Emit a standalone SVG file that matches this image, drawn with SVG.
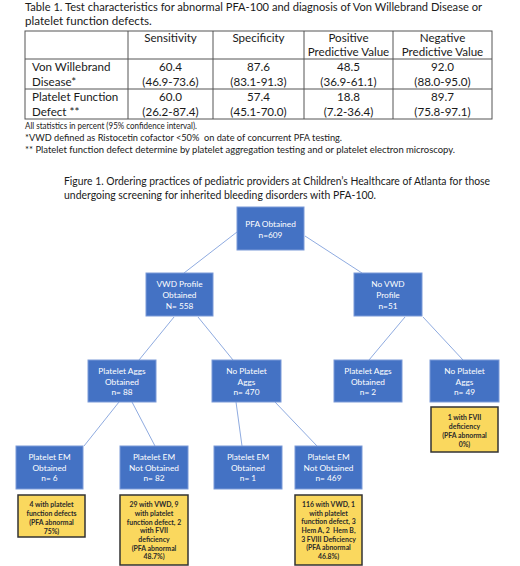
<svg xmlns="http://www.w3.org/2000/svg" width="520" height="566" viewBox="0 0 520 566">
<style>
.t{font-family:Lato,"Liberation Sans",sans-serif;fill:#1a1a1a}
.ttl{font-size:11.6px}
.cell{font-size:11.6px}
.ctr{text-anchor:middle}
.fn{font-size:9.4px}
.cap{font-size:10.6px}
.bx{fill:#4472C4;stroke:#7b9ad8;stroke-width:1}
.bt{font-family:Lato,"Liberation Sans",sans-serif;font-size:8.3px;fill:#ffffff;text-anchor:middle}
.yb{fill:#FAD85E;stroke:#333333;stroke-width:1.5}
.yt{font-family:Lato,"Liberation Sans",sans-serif;font-size:6.9px;font-weight:bold;fill:#2a2a2a;text-anchor:middle}
.tl{stroke:#555555;stroke-width:1;fill:none}
.cn{stroke:#8fabe0;stroke-width:1;fill:none}
</style>
<rect width="520" height="566" fill="#ffffff"/>
<g id="table">
<text class="t ttl" x="25" y="10.5" textLength="457" lengthAdjust="spacingAndGlyphs">Table 1. Test characteristics for abnormal PFA-100 and diagnosis of Von Willebrand Disease or</text>
<text class="t ttl" x="25" y="25">platelet function defects.</text>
<rect class="tl" x="25" y="31" width="467" height="88"/>
<line class="tl" x1="25" y1="59" x2="492" y2="59"/>
<line class="tl" x1="25" y1="89" x2="492" y2="89"/>
<line class="tl" x1="128" y1="31" x2="128" y2="119"/>
<line class="tl" x1="213" y1="31" x2="213" y2="119"/>
<line class="tl" x1="304" y1="31" x2="304" y2="119"/>
<line class="tl" x1="393" y1="31" x2="393" y2="119"/>
<text class="t cell ctr" x="170.5" y="41.5">Sensitivity</text>
<text class="t cell ctr" x="258.5" y="41.5">Specificity</text>
<text class="t cell ctr" x="348.5" y="41.5">Positive</text>
<text class="t cell ctr" x="348.5" y="56">Predictive Value</text>
<text class="t cell ctr" x="442.5" y="41.5">Negative</text>
<text class="t cell ctr" x="442.5" y="56">Predictive Value</text>
<text class="t cell" x="32" y="71">Von Willebrand</text>
<text class="t cell" x="32" y="86">Disease*</text>
<text class="t cell" x="32" y="101">Platelet Function</text>
<text class="t cell" x="32" y="116">Defect **</text>
<text class="t cell ctr" x="170.5" y="71">60.4</text>
<text class="t cell ctr" x="170.5" y="86">(46.9-73.6)</text>
<text class="t cell ctr" x="258.5" y="71">87.6</text>
<text class="t cell ctr" x="258.5" y="86">(83.1-91.3)</text>
<text class="t cell ctr" x="348.5" y="71">48.5</text>
<text class="t cell ctr" x="348.5" y="86">(36.9-61.1)</text>
<text class="t cell ctr" x="442.5" y="71">92.0</text>
<text class="t cell ctr" x="442.5" y="86">(88.0-95.0)</text>
<text class="t cell ctr" x="170.5" y="101">60.0</text>
<text class="t cell ctr" x="170.5" y="116">(26.2-87.4)</text>
<text class="t cell ctr" x="258.5" y="101">57.4</text>
<text class="t cell ctr" x="258.5" y="116">(45.1-70.0)</text>
<text class="t cell ctr" x="348.5" y="101">18.8</text>
<text class="t cell ctr" x="348.5" y="116">(7.2-36.4)</text>
<text class="t cell ctr" x="442.5" y="101">89.7</text>
<text class="t cell ctr" x="442.5" y="116">(75.8-97.1)</text>
<text class="t fn" x="25" y="128.5" textLength="172" lengthAdjust="spacingAndGlyphs">All statistics in percent (95% confidence interval).</text>
<text class="t fn" x="25" y="140.5" textLength="317" lengthAdjust="spacingAndGlyphs" xml:space="preserve">*VWD defined as Ristocetin cofactor &lt;50%  on date of concurrent PFA testing.</text>
<text class="t fn" x="25" y="152.5" textLength="430" lengthAdjust="spacingAndGlyphs">** Platelet function defect determine by platelet aggregation testing and or platelet electron microscopy.</text>
<text class="t cap" x="64" y="185" textLength="426" lengthAdjust="spacingAndGlyphs">Figure 1. Ordering practices of pediatric providers at Children’s Healthcare of Atlanta for those</text>
<text class="t cap" x="64" y="198.5" textLength="312" lengthAdjust="spacingAndGlyphs">undergoing screening for inherited bleeding disorders with PFA-100.</text>
</g>
<g id="connectors">
<line class="cn" x1="237" y1="232" x2="184" y2="273"/>
<line class="cn" x1="305" y1="236" x2="362" y2="273"/>
<line class="cn" x1="174" y1="317" x2="139" y2="360"/>
<line class="cn" x1="198" y1="317" x2="233" y2="360"/>
<line class="cn" x1="405" y1="317" x2="369" y2="360"/>
<line class="cn" x1="423" y1="317" x2="463" y2="360"/>
<line class="cn" x1="119" y1="402" x2="84" y2="446"/>
<line class="cn" x1="132" y1="402" x2="155" y2="446"/>
<line class="cn" x1="236" y1="402" x2="242" y2="446"/>
<line class="cn" x1="275" y1="402" x2="317" y2="446"/>
</g>
<g id="pfa"><rect class="bx" x="237" y="207" width="67" height="43"/><text class="bt" x="270.5" y="227">PFA Obtained</text><text class="bt" x="270.5" y="237.5">n=609</text></g>
<g id="vwd"><rect class="bx" x="146" y="273" width="67" height="43"/><text class="bt" x="179.5" y="287">VWD Profile</text><text class="bt" x="179.5" y="298">Obtained</text><text class="bt" x="179.5" y="309">N= 558</text></g>
<g id="novwd"><rect class="bx" x="354" y="273" width="68" height="43"/><text class="bt" x="388" y="287">No VWD</text><text class="bt" x="388" y="298">Profile</text><text class="bt" x="388" y="309">n=51</text></g>
<g id="pa88"><rect class="bx" x="88" y="360" width="68" height="42"/><text class="bt" x="122" y="374">Platelet Aggs</text><text class="bt" x="122" y="384.5">Obtained</text><text class="bt" x="122" y="395">n= 88</text></g>
<g id="npa470"><rect class="bx" x="212" y="360" width="69" height="42"/><text class="bt" x="246.5" y="374">No Platelet</text><text class="bt" x="246.5" y="384.5">Aggs</text><text class="bt" x="246.5" y="395">n= 470</text></g>
<g id="pa2"><rect class="bx" x="334" y="360" width="68" height="42"/><text class="bt" x="368" y="374">Platelet Aggs</text><text class="bt" x="368" y="384.5">Obtained</text><text class="bt" x="368" y="395">n= 2</text></g>
<g id="npa49"><rect class="bx" x="430" y="360" width="69" height="42"/><text class="bt" x="464.5" y="374">No Platelet</text><text class="bt" x="464.5" y="384.5">Aggs</text><text class="bt" x="464.5" y="395">n= 49</text></g>
<g id="em6"><rect class="bx" x="16" y="446" width="67" height="43"/><text class="bt" x="49.5" y="460">Platelet EM</text><text class="bt" x="49.5" y="470.5">Obtained</text><text class="bt" x="49.5" y="481">n= 6</text></g>
<g id="emno82"><rect class="bx" x="120" y="446" width="68" height="43"/><text class="bt" x="154" y="460">Platelet EM</text><text class="bt" x="154" y="470.5">Not Obtained</text><text class="bt" x="154" y="481">n= 82</text></g>
<g id="em1"><rect class="bx" x="214" y="446" width="68" height="43"/><text class="bt" x="248" y="460">Platelet EM</text><text class="bt" x="248" y="470.5">Obtained</text><text class="bt" x="248" y="481">n= 1</text></g>
<g id="emno469"><rect class="bx" x="295" y="446" width="67" height="43"/><text class="bt" x="328.5" y="460">Platelet EM</text><text class="bt" x="328.5" y="470.5">Not Obtained</text><text class="bt" x="328.5" y="481">n= 469</text></g>
<g id="note49"><rect class="yb" x="431" y="407" width="67" height="45"/><text class="yt" x="464.5" y="419.5">1 with FVII</text><text class="yt" x="464.5" y="428.5">deficiency</text><text class="yt" x="464.5" y="437.5">(PFA abnormal</text><text class="yt" x="464.5" y="446.5">0%)</text></g>
<g id="note6"><rect class="yb" x="18" y="495" width="67" height="42"/><text class="yt" x="51.5" y="506.5">4 with platelet</text><text class="yt" x="51.5" y="515.5">function defects</text><text class="yt" x="51.5" y="524.5">(PFA abnormal</text><text class="yt" x="51.5" y="533.5">75%)</text></g>
<g id="note82"><rect class="yb" x="120" y="495" width="68" height="70"/><text class="yt" x="154" y="506.5">29 with VWD, 9</text><text class="yt" x="154" y="515.5">with platelet</text><text class="yt" x="154" y="524.5">function defect, 2</text><text class="yt" x="154" y="533">with FVII</text><text class="yt" x="154" y="541.5">deficiency</text><text class="yt" x="154" y="550.5">(PFA abnormal</text><text class="yt" x="154" y="558.5">48.7%)</text></g>
<g id="note469"><rect class="yb" x="295" y="495" width="67" height="70"/><text class="yt" x="328.5" y="506.5">116 with VWD, 1</text><text class="yt" x="328.5" y="515.5">with platelet</text><text class="yt" x="328.5" y="524">function defect, 3</text><text class="yt" x="328.5" y="532.5" xml:space="preserve">Hem A, 2  Hem B,</text><text class="yt" x="328.5" y="541.5">3 FVIII Deficiency</text><text class="yt" x="328.5" y="550">(PFA abnormal</text><text class="yt" x="328.5" y="558.5">46.8%)</text></g>
</svg>
